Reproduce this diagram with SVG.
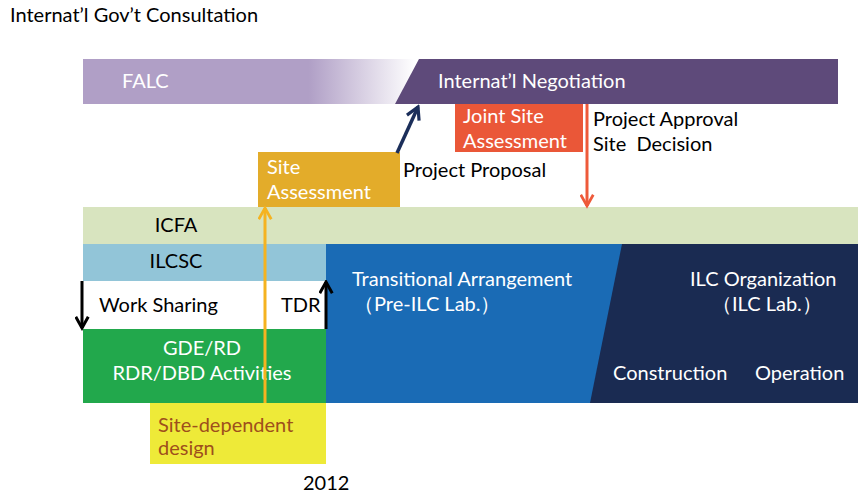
<svg xmlns="http://www.w3.org/2000/svg" width="858" height="495" viewBox="0 0 858 495">
<defs>
<linearGradient id="falcGrad" x1="83" y1="0" x2="415" y2="0" gradientUnits="userSpaceOnUse">
<stop offset="0" stop-color="#b09fc6"/>
<stop offset="0.68" stop-color="#b09fc6"/>
<stop offset="1" stop-color="#ffffff"/>
</linearGradient>
<marker id="headRed" viewBox="0 0 12 12" refX="10" refY="6" markerWidth="15" markerHeight="15" markerUnits="userSpaceOnUse" orient="auto">
<path d="M1,1 L10,6 L1,11" fill="none" stroke="#ee5a3a" stroke-width="2.2"/>
</marker>
<marker id="headNavy" viewBox="0 0 12 12" refX="10" refY="6" markerWidth="16" markerHeight="16" markerUnits="userSpaceOnUse" orient="auto">
<path d="M1,1 L10,6 L1,11" fill="none" stroke="#1b2e5a" stroke-width="2.4"/>
</marker>
<marker id="headOrange" viewBox="0 0 12 12" refX="10" refY="6" markerWidth="15" markerHeight="15" markerUnits="userSpaceOnUse" orient="auto">
<path d="M1,1 L10,6 L1,11" fill="none" stroke="#f5b320" stroke-width="2.2"/>
</marker>
<marker id="headBlack" viewBox="0 0 12 12" refX="10" refY="6" markerWidth="15" markerHeight="15" markerUnits="userSpaceOnUse" orient="auto">
<path d="M1,1 L10,6 L1,11" fill="none" stroke="#000000" stroke-width="2.4"/>
</marker>
</defs>
<style>
text { font-family: Lato, "Open Sans", "Liberation Sans", sans-serif; font-size: 20px; }
.w { fill: #ffffff; }
.k { fill: #000000; }
.br { fill: #9e4f1c; }
</style>
<rect width="858" height="495" fill="#ffffff"/>

<g id="title"><text x="10" y="22" class="k">Internat’l Gov’t Consultation</text></g>

<g id="falc">
<rect x="83" y="59" width="332" height="45" fill="url(#falcGrad)"/>
<text x="122" y="88" class="w">FALC</text>
</g>
<g id="negotiation">
<polygon points="419,59 838,59 838,104 395,104" fill="#5e4a7a"/>
<text x="438" y="88" class="w">Internat’l Negotiation</text>
</g>
<g id="joint-site">
<rect x="455" y="104" width="128" height="48" fill="#ea5738"/>
<text x="463" y="123" class="w">Joint Site</text>
<text x="463" y="148" class="w">Assessment</text>
</g>
<g id="approval-label">
<text x="593" y="126" class="k">Project Approval</text>
<text x="593" y="151" class="k" xml:space="preserve">Site  Decision</text>
</g>
<g id="site-assessment">
<rect x="258" y="152" width="142" height="55" fill="#e3ac2a"/>
<text x="267" y="174" class="w">Site</text>
<text x="267" y="199" class="w">Assessment</text>
</g>
<g id="proposal-label"><text x="403" y="177" class="k">Project Proposal</text></g>

<g id="icfa">
<rect x="83" y="207" width="775" height="37" fill="#d8e4bf"/>
<text x="176" y="232" class="k" text-anchor="middle">ICFA</text>
</g>
<g id="ilcsc">
<rect x="83" y="244" width="243" height="37" fill="#92c5d8"/>
<text x="176" y="268" class="k" text-anchor="middle">ILCSC</text>
</g>
<g id="work-sharing">
<text x="99" y="312" class="k">Work Sharing</text>
<text x="281" y="312" class="k">TDR</text>
</g>
<g id="gde">
<rect x="83" y="329" width="243" height="74" fill="#22a84c"/>
<text x="202" y="355" class="w" text-anchor="middle">GDE/RD</text>
<text x="202" y="380" class="w" text-anchor="middle">RDR/DBD Activities</text>
</g>
<g id="site-dependent">
<rect x="150" y="403" width="176" height="61" fill="#eeea38"/>
<text x="158" y="432" class="br">Site-dependent</text>
<text x="158" y="455" class="br">design</text>
</g>
<g id="year"><text x="303" y="490" class="k">2012</text></g>

<g id="transitional">
<rect x="326" y="244" width="300" height="159" fill="#1a6bb5"/>
<text x="352" y="286" class="w">Transitional Arrangement</text>
<text x="354" y="311" class="w">（Pre-ILC Lab.）</text>
</g>
<g id="ilc-org">
<polygon points="622,244 858,244 858,403 590,403" fill="#1a2b52"/>
<text x="690" y="286" class="w">ILC Organization</text>
<text x="712" y="311" class="w">（ILC Lab.）</text>
<text x="613" y="380" class="w">Construction</text>
<text x="755" y="380" class="w">Operation</text>
</g>

<g id="connectors">
<line x1="587" y1="104" x2="587" y2="206" stroke="#ee5a3a" stroke-width="3" marker-end="url(#headRed)"/>
<line x1="397" y1="153" x2="418" y2="107" stroke="#1b2e5a" stroke-width="3.5" marker-end="url(#headNavy)"/>
<line x1="265" y1="403" x2="265" y2="208" stroke="#f5b320" stroke-width="3" marker-end="url(#headOrange)"/>
<line x1="82" y1="281" x2="82" y2="328" stroke="#000000" stroke-width="3" marker-end="url(#headBlack)"/>
<line x1="326" y1="329" x2="326" y2="282" stroke="#000000" stroke-width="3" marker-end="url(#headBlack)"/>
</g>
</svg>
